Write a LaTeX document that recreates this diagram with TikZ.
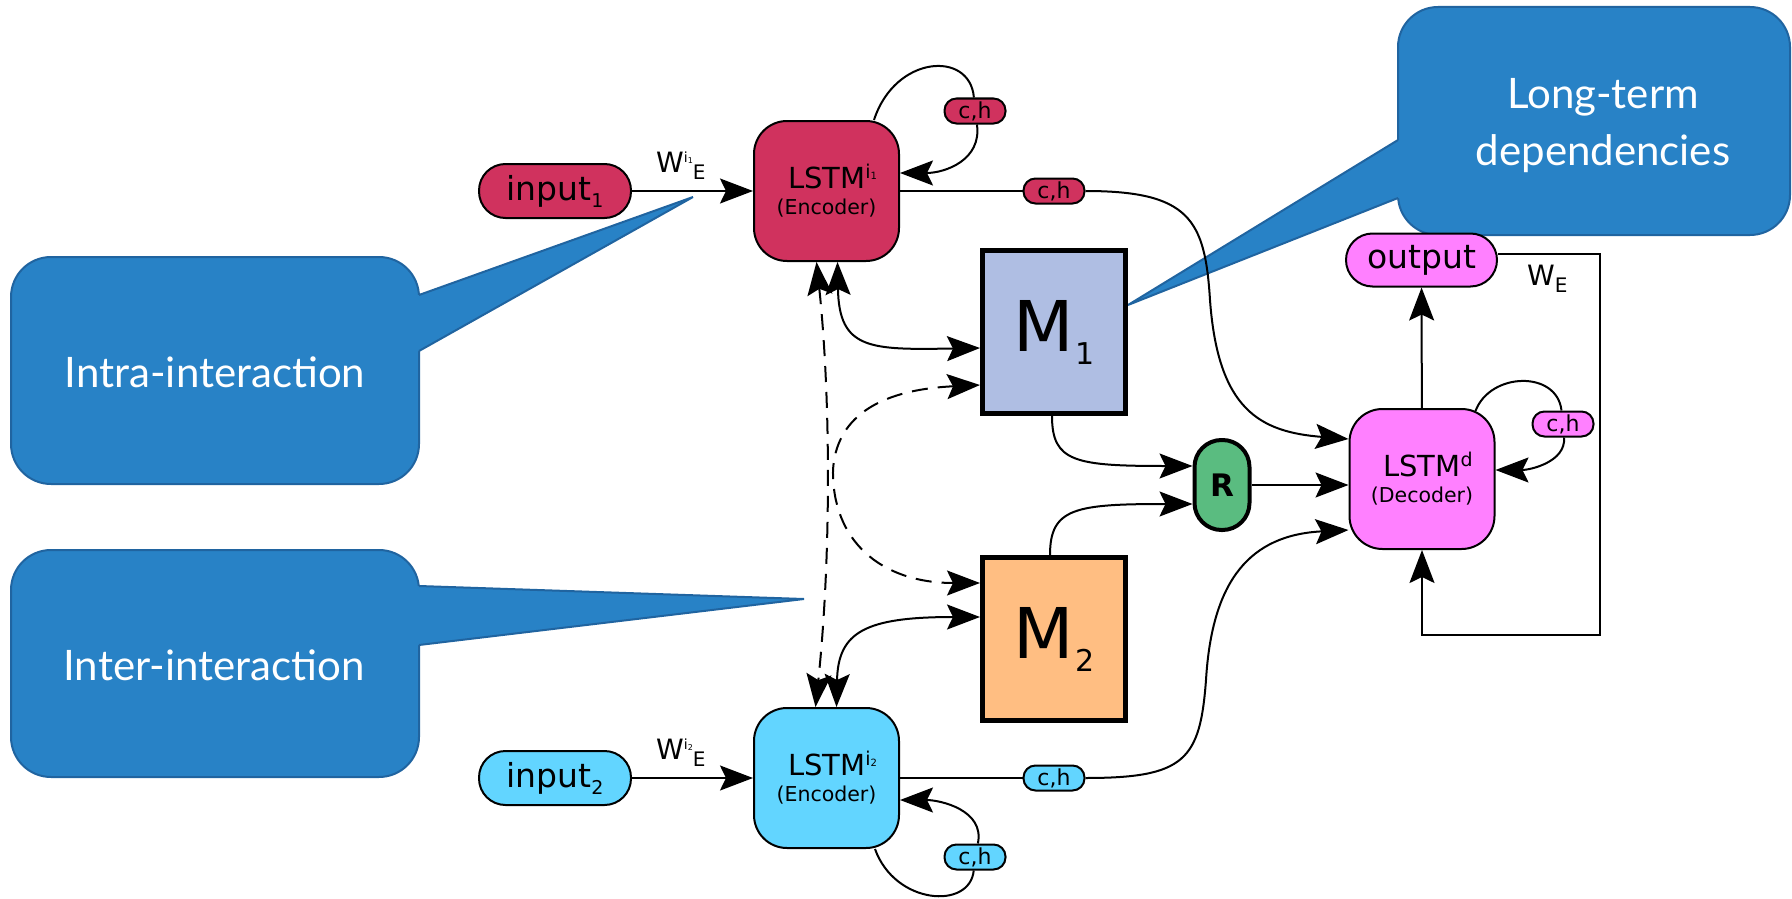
\documentclass[tikz,border=0pt]{standalone}
\usepackage{fontspec}
\setmainfont{DejaVu Sans}
\newfontfamily\callfont{Lato}
\usetikzlibrary{arrows.meta,calc}
\definecolor{encred}{RGB}{208,50,94}
\definecolor{enccyan}{RGB}{98,213,255}
\definecolor{decpink}{RGB}{255,128,255}
\definecolor{memblue}{RGB}{175,190,227}
\definecolor{memorange}{RGB}{255,190,130}
\definecolor{rgreen}{RGB}{90,188,128}
\definecolor{callblue}{RGB}{40,130,198}
\definecolor{calledge}{RGB}{32,100,160}
\newcommand{\lstmtext}[2]{{\fontsize{29}{29}\selectfont\hspace*{12pt}LSTM\raisebox{10pt}{\fontsize{19}{19}\selectfont #1}}\\{\fontsize{20.5}{26}\selectfont (#2)}}
\newcommand{\ione}{i\raisebox{-1pt}{\fontsize{10}{10}\selectfont 1}}
\newcommand{\itwo}{i\raisebox{-1pt}{\fontsize{10}{10}\selectfont 2}}
\begin{document}
\begin{tikzpicture}[x=1pt,y=-1pt,
  >={Stealth[length=33pt,width=25pt,inset=6pt]},
  conn/.style={line width=2pt},
  dconn/.style={line width=2pt, dash pattern=on 16pt off 10pt},
  lstmbox/.style={draw=black, line width=2pt, rounded corners=33pt, minimum width=145pt, minimum height=140pt, align=center, inner sep=0pt, font=\fontsize{20.5}{26}\selectfont},
  iopill/.style={draw=black, line width=2pt, rounded corners=26.5pt, minimum width=152pt, minimum height=54pt, inner sep=0pt, font=\fontsize{33}{33}\selectfont},
  chpill/.style={draw=black, line width=2pt, rounded corners=12pt, minimum width=61pt, minimum height=25pt, inner sep=0pt, font=\fontsize{22}{22}\selectfont},
  mbox/.style={draw=black, line width=5pt, minimum width=143pt, minimum height=163pt, inner sep=0pt},
  callout/.style={fill=callblue, draw=calledge, line width=2pt},
  calltext/.style={text=white, font=\callfont\fontsize{42}{57}\selectfont, align=center, inner sep=0pt},
  wlabel/.style={anchor=base west, inner sep=0pt, font=\fontsize{28}{28}\selectfont},
]
\useasboundingbox (0,0) rectangle (1792,899);

% callouts (background)
\filldraw[callout, rounded corners=40pt] (11,257) rectangle (419,484);
\fill[callblue] (410,295) -- (419,295) -- (693,197) -- (419,351) -- (410,351) -- cycle;
\draw[calledge, line width=2pt] (419,295) -- (693,197) -- (419,351);
\node[calltext] (intra) at (215,372) {Intra-interaction};

\filldraw[callout, rounded corners=40pt] (11,550) rectangle (419,777);
\fill[callblue] (410,586) -- (419,586) -- (804,599) -- (419,645) -- (410,645) -- cycle;
\draw[calledge, line width=2pt] (419,586) -- (804,599) -- (419,645);
\node[calltext] (inter) at (214,665) {Inter-interaction};

\filldraw[callout, rounded corners=40pt] (1398,7) rectangle (1790,235);
\fill[callblue] (1407,140) -- (1398,140) -- (1128,305) -- (1398,198) -- (1407,198) -- cycle;
\draw[calledge, line width=2pt] (1398,140) -- (1128,305) -- (1398,198);
\node[calltext] (longterm) at (1603,126) {Long-term\\dependencies};

% nodes
\node[iopill, fill=encred] (in1) at (555,191) {input\raisebox{-7pt}{\fontsize{19}{19}\selectfont 1}};
\node[iopill, fill=enccyan] (in2) at (555,778) {input\raisebox{-7pt}{\fontsize{19}{19}\selectfont 2}};
\node[lstmbox, fill=encred] (lstm1) at (826.5,191) {\lstmtext{\ione}{Encoder}};
\node[lstmbox, fill=enccyan] (lstm2) at (826.5,778) {\lstmtext{\itwo}{Encoder}};
\node[lstmbox, fill=decpink] (dec) at (1422,479) {\lstmtext{d}{Decoder}};
\node[iopill, fill=decpink, minimum width=151pt, minimum height=53pt] (out) at (1421.5,260) {output};
\node[mbox, fill=memblue] (m1) at (1054,332) {{\fontsize{70}{70}\selectfont M}\raisebox{-13pt}{\fontsize{30}{30}\selectfont\hspace{2pt}1}};
\node[mbox, fill=memorange] (m2) at (1054,639) {{\fontsize{70}{70}\selectfont M}\raisebox{-13pt}{\fontsize{30}{30}\selectfont\hspace{2pt}2}};
\node[draw=black, line width=4pt, fill=rgreen, rounded corners=27pt, minimum width=55pt, minimum height=90pt, inner sep=0pt, font=\bfseries\fontsize{31}{31}\selectfont] (r) at (1222,485) {R};
\node[chpill, fill=encred] (ch1) at (975,111) {c,h};
\node[chpill, fill=encred] (ch2) at (1054,191) {c,h};
\node[chpill, fill=enccyan] (ch3) at (1054,778) {c,h};
\node[chpill, fill=decpink] (ch4) at (1563,424) {c,h};
\node[chpill, fill=enccyan] (ch5) at (975,857) {c,h};

% weight labels
\node[wlabel] (w1) at (656,172) {W\raisebox{10pt}{\fontsize{14}{14}\selectfont i\raisebox{-1pt}{\fontsize{8}{8}\selectfont 1}}\raisebox{-7pt}{\fontsize{20}{20}\selectfont E}};
\node[wlabel] (w2) at (656,759) {W\raisebox{10pt}{\fontsize{14}{14}\selectfont i\raisebox{-1pt}{\fontsize{8}{8}\selectfont 2}}\raisebox{-7pt}{\fontsize{20}{20}\selectfont E}};
\node[wlabel] (we) at (1527,285) {W\raisebox{-7pt}{\fontsize{20}{20}\selectfont E}};

% inputs
\draw[conn,->] (in1) -- (lstm1);
\draw[conn,->] (in2) -- (lstm2);

% encoder <-> memory
\draw[conn,<->] ($(lstm1.south)+(11,0)$) .. controls (839,350) and (870,350) .. ($(m1.west)+(0,16)$);
\draw[conn,<->] ($(lstm2.north)+(10,0)$) .. controls (838,632) and (865,617) .. ($(m2.west)+(0,-22)$);

% inter-interaction (dashed)
\draw[dconn,<->] ($(lstm1.south)+(-10,0)$) .. controls (831,400) and (831,560) .. ($(lstm2.north)+(-11,0)$);
\draw[dconn,<->] ($(m1.west)+(0,53)$) .. controls (875,390) and (836,420) .. (833,470) .. controls (832,540) and (880,583) .. ($(m2.west)+(0,-56)$);

% memories to R
\draw[conn,->] ($(m1.south)+(-2,0)$) .. controls (1052,462) and (1075,466) .. ($(r.west)+(0,-19)$);
\draw[conn,->] ($(m2.north)+(-4,0)$) .. controls (1050,508) and (1075,504) .. ($(r.west)+(0,19)$);
\draw[conn,->] (r) -- (r -| dec.west);

% encoder states to decoder
\draw[conn] (lstm1.east) -- (ch2);
\draw[conn,->] (ch2) .. controls (1190,191) and (1205,220) .. (1210,300) .. controls (1218,410) and (1260,432) .. ($(dec.west)+(0,-40)$);
\draw[conn] (lstm2.east) -- (ch3);
\draw[conn,->] (ch3) .. controls (1185,778) and (1200,760) .. (1206,680) .. controls (1212,580) and (1250,535) .. ($(dec.west)+(0,51)$);

% decoder output and feedback
\coordinate (fbA) at (1600,254);
\coordinate (fbB) at (1600,635);
\draw[conn,->] (dec) -- (out);
\draw[conn,->] ($(out.east)+(0,-6)$) -- (fbA) -- (fbB) -| (dec.south);

% self loops
\draw[conn] ($(lstm1.north east)+(-26,0)$) .. controls (895,55) and (970,50) .. (ch1);
\draw[conn,->] (ch1) .. controls (982,160) and (945,173) .. ($(lstm1.east)+(0,-18)$);
\draw[conn] ($(lstm2.south east)+(-25,0)$) .. controls (895,905) and (970,910) .. (ch5);
\draw[conn,->] (ch5) .. controls (985,810) and (940,800) .. ($(lstm2.east)+(0,22)$);
\draw[conn] ($(dec.north east)+(-20,3)$) .. controls (1490,372) and (1557,370) .. (ch4);
\draw[conn,->] (ch4) .. controls (1566,462) and (1530,470) .. ($(dec.east)+(0,-9)$);
\end{tikzpicture}
\end{document}
